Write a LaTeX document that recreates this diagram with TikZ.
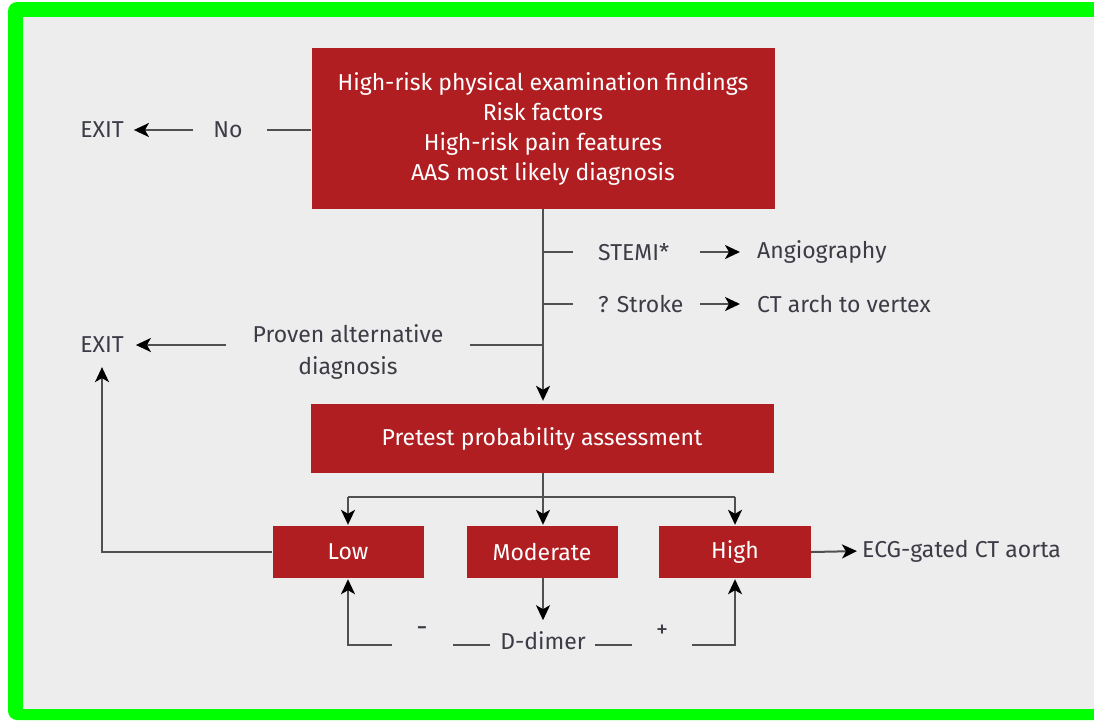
\documentclass[tikz,border=0pt]{standalone}
\usepackage{fontspec}
\setmainfont{Fira Sans}
\usetikzlibrary{arrows.meta}
\definecolor{bg}{HTML}{EDEDED}
\definecolor{boxred}{HTML}{B01E22}
\definecolor{txt}{HTML}{3C3C46}
\definecolor{lime}{HTML}{00FF00}
\definecolor{ln}{HTML}{505050}
\begin{document}
\begin{tikzpicture}[x=1pt,y=-1pt,
  redbox/.style={fill=boxred,draw=none,text=white,font=\fontsize{23}{30}\selectfont,align=center,inner sep=0pt},
  lbl/.style={text=txt,font=\fontsize{23}{32}\selectfont,inner sep=0pt,align=center},
  conn/.style={draw=ln,line width=2pt},
  arr/.style={conn,-{Stealth[length=15pt,width=14pt,inset=4pt,color=black]}}]
\useasboundingbox (0,0) rectangle (1094,721);
\fill[white] (0,0) rectangle (1094,721);
\fill[lime,rounded corners=9pt] (8,2) rectangle (1120,720);
\fill[bg] (23,17) rectangle (1094,709);

% boxes
\node[redbox,minimum width=463pt,minimum height=161pt] (top) at (543,128.5)
  {\rule{0pt}{6pt}High-risk physical examination findings\\Risk factors\\High-risk pain features\\AAS most likely diagnosis};
\node[redbox,minimum width=463pt,minimum height=69pt] (pre) at (542,438.5) {Pretest probability assessment};
\node[redbox,minimum width=151pt,minimum height=52pt] (low) at (348,552) {Low};
\node[redbox,minimum width=151pt,minimum height=52pt] (mod) at (542,552) {Moderate};
\node[redbox,minimum width=152pt,minimum height=52pt] (high) at (735,552) {High};

% labels
\node[lbl] (exit1) at (102,130) {EXIT};
\node[lbl] (no) at (228,130) {No};
\node[lbl,anchor=west] (stemi) at (598,252) {STEMI*};
\node[lbl,anchor=west] (angio) at (757,252) {Angiography};
\node[lbl,anchor=west] (stroke) at (598,304) {? Stroke};
\node[lbl,anchor=west] (ctarch) at (757,304) {CT arch to vertex};
\node[lbl] (exit2) at (102,345) {EXIT};
\node[lbl] (proven) at (348,352) {Proven alternative\\diagnosis};
\node[lbl,anchor=west] (ecg) at (862,551) {ECG-gated CT aorta};
\node[lbl] (dd) at (543,641) {D-dimer};
\node[lbl,font=\fontsize{28}{30}\selectfont] (minus) at (422,632) {-};
\node[lbl,font=\fontsize{24}{26}\selectfont] (plus) at (662,631) {+};

% coordinates
\coordinate (b1) at (543,252);
\coordinate (b2) at (543,304);
\coordinate (b3) at (543,345);
\coordinate (a1s) at (700,252);
\coordinate (a1e) at (740,252);
\coordinate (a2s) at (700,304);
\coordinate (a2e) at (740,304);
\coordinate (split) at (543,497);
\coordinate (dl) at (392,645);
\coordinate (dr) at (692,645);
\coordinate (dla) at (453,645);
\coordinate (dlb) at (490,645);
\coordinate (dra) at (595,645);
\coordinate (drb) at (632,645);

% connectors
\draw[conn] (top.west |- no) -- ++(-44,0);
\draw[arr,shorten <=20pt,shorten >=10pt] (no) -- (exit1);
\draw[arr,shorten >=3pt] (top.south -| b1) -- (pre.north -| b1);
\draw[conn] (b1) -- ++(30,0);
\draw[conn] (b2) -- ++(30,0);
\draw[arr] (a1s) -- (a1e);
\draw[arr] (a2s) -- (a2e);
\draw[conn] (b3) -- ++(-73,0);
\draw[arr] ([xshift=-317pt]b3) -- ([xshift=12pt]exit2.east);
\draw[arr,shorten >=14pt] (low.west) -| (exit2.south);
\draw[conn] (pre.south -| split) -- (split);
\draw[conn] (split -| low) -- (split -| high);
\draw[arr,shorten >=1pt] (split -| low) -- (low.north);
\draw[arr,shorten >=1pt] (split) -- (mod.north -| split);
\draw[arr,shorten >=1pt] (split -| high) -- (high.north);
\draw[arr,shorten >=5pt] (high.east) -- (ecg.west);
\draw[arr] (mod.south -| split) -- ++(0,42);
\draw[conn] (dla) -- (dlb);
\draw[conn] (dra) -- (drb);
\draw[arr,shorten >=1pt] (dl) -| (low.south);
\draw[arr,shorten >=1pt] (dr) -| (high.south);
\end{tikzpicture}
\end{document}
